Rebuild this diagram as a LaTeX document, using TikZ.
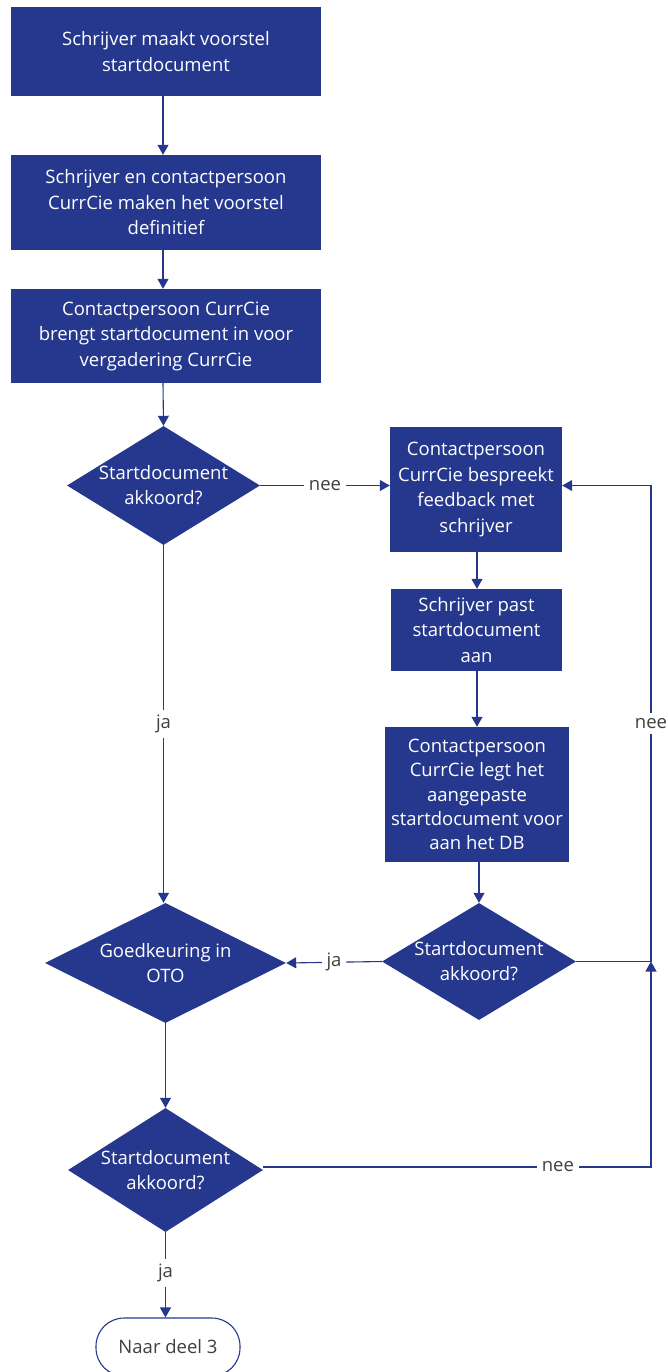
\documentclass[tikz,border=0pt]{standalone}
\usepackage{fontspec}
\setmainfont{Open Sans}
\usetikzlibrary{shapes.geometric,arrows.meta}
\definecolor{fcblue}{RGB}{38,56,142}
\definecolor{fcgray}{RGB}{64,64,64}
\tikzset{
  procbox/.style={rectangle, fill=fcblue, text=white, inner sep=0pt, align=center, font=\fontsize{18.5}{25.5}\selectfont},
  decbox/.style={diamond, fill=fcblue, inner sep=0pt},
  dectext/.style={text=white, align=center, font=\fontsize{18.5}{25}\selectfont},
  conn/.style={draw=fcblue, line width=1.1pt, -{Triangle[length=10pt,width=11pt]}},
  plainconn/.style={draw=fcblue, line width=1.1pt},
  lbl/.style={fill=white, text=fcgray, inner sep=5pt, font=\fontsize{18.5}{20}\selectfont},
  termbox/.style={draw=fcblue, line width=1.1pt, rounded corners=28pt, fill=white}
}
\begin{document}
\begin{tikzpicture}[x=1pt,y=-1pt]
\useasboundingbox (0,0) rectangle (668,1372);
% left column boxes
\node[procbox, minimum width=310, minimum height=89] (b1) at (166,51.5) {Schrijver maakt voorstel\\startdocument};
\node[procbox, minimum width=310, minimum height=95] (b2) at (166,202.5) {Schrijver en contactpersoon\\CurrCie maken het voorstel\\definitief};
\node[procbox, minimum width=310, minimum height=94] (b3) at (166,336) {Contactpersoon CurrCie\\brengt startdocument in voor\\vergadering CurrCie};
% diamonds
\node[decbox, minimum width=193, minimum height=119] (d1) at (163.5,485.5) {};
\node[dectext] (t1) at (d1) {Startdocument\\akkoord?};
\node[decbox, minimum width=241, minimum height=120] (d3) at (165.5,963) {};
\node[dectext] (t3) at (d3) {Goedkeuring in\\OTO};
\node[decbox, minimum width=195, minimum height=124] (d4) at (165.5,1170) {};
\node[dectext] (t4) at (d4) {Startdocument\\akkoord?};
% right column
\node[procbox, minimum width=172, minimum height=125] (ba) at (476,489.5) {Contactpersoon\\CurrCie bespreekt\\feedback met\\schrijver};
\node[procbox, minimum width=171, minimum height=82] (bb) at (476.5,630) {Schrijver past\\startdocument\\aan};
\node[procbox, minimum width=184, minimum height=135, font=\fontsize{18.5}{24.2}\selectfont] (bc) at (477,794.5) {Contactpersoon\\CurrCie legt het\\aangepaste\\startdocument voor\\aan het DB};
\node[decbox, minimum width=194, minimum height=117] (d2) at (479,961.5) {};
\node[dectext] (t2) at (d2) {Startdocument\\akkoord?};
% terminal
\node[termbox, minimum width=144, minimum height=58, inner sep=0pt, text=fcgray, font=\fontsize{18.5}{20}\selectfont] (end) at (168,1347) {Naar deel 3};
% corners
\coordinate (c1) at (651,961.5);
\coordinate (c2) at (651,1167);
\coordinate (c3) at (651,485.5);
% connectors
\draw[conn] (b1.south -| 163,0) -- (b2.north -| 163,0);
\draw[conn] (b2.south -| 163,0) -- (b3.north -| 163,0);
\draw[conn] (b3.south -| 163,0) -- (d1.north);
\draw[conn] (d1.east) -- node[lbl, pos=0.5] (l1) {nee} (ba.west |- d1.east);
\draw[conn] (d1.south) -- node[lbl, pos=0.5] (l2) {ja} (d1.south |- d3.north);
\draw[conn] (ba.south -| 477,0) -- (bb.north -| 477,0);
\draw[conn] (bb.south -| 477,0) -- (bc.north -| 477,0);
\draw[conn] (bc.south -| 479,0) -- (d2.north);
\draw[conn] (d2.west) -- node[lbl, pos=0.5] (l3) {ja} (d3.east);
\draw[plainconn] (d2.east) -- (c1);
\draw[conn] (c1) -- node[lbl, pos=0.5] (l4) {nee} (c3) -- (ba.east |- c3);
\draw[conn] (d4.east |- c2) -- node[lbl, pos=0.76] (l5) {nee} (c2) -- (c1);
\draw[conn] (d3.south) -- (d3.south |- d4.north);
\draw[conn] (d4.south) -- node[lbl, pos=0.48] (l6) {ja} (d4.south |- end.north);
\end{tikzpicture}
\end{document}
